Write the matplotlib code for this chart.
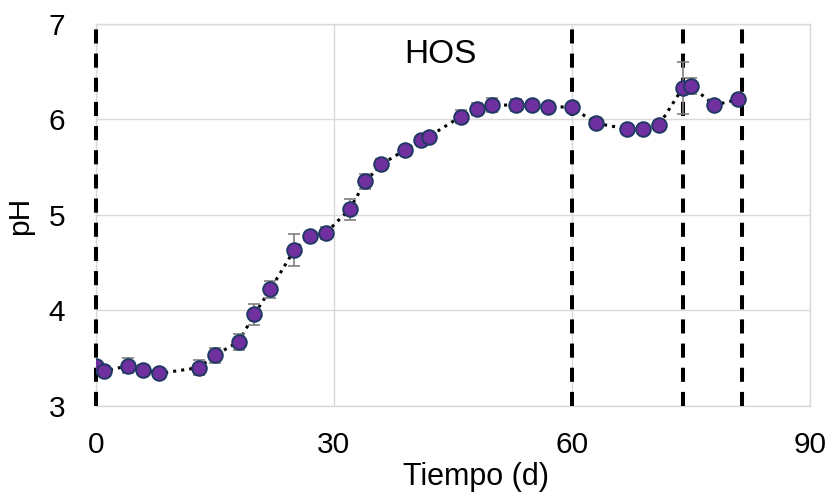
import numpy as np
import matplotlib.pyplot as plt

plt.rcParams['font.family'] = ['Liberation Sans', 'DejaVu Sans']

# pH over time, HOS reactor
tiempo = [0, 1, 4, 6, 8, 13, 15, 18, 20, 22, 25, 27, 29, 32, 34, 36, 39, 41, 42,
          46, 48, 50, 53, 55, 57, 60, 63, 67, 69, 71, 74, 75, 78, 81]
ph = [3.42, 3.36, 3.42, 3.38, 3.34, 3.40, 3.53, 3.67, 3.96, 4.22, 4.63, 4.78, 4.81,
      5.06, 5.35, 5.53, 5.68, 5.78, 5.82, 6.03, 6.11, 6.15, 6.15, 6.15, 6.13, 6.13,
      5.96, 5.90, 5.90, 5.94, 6.33, 6.35, 6.15, 6.21]
ph_err = [0.03, 0.05, 0.08, 0.05, 0.04, 0.08, 0.08, 0.08, 0.11, 0.09, 0.17, 0.04, 0.06,
          0.11, 0.08, 0.06, 0.04, 0.04, 0.03, 0.07, 0.06, 0.07, 0.06, 0.04, 0.03, 0.04,
          0.05, 0.04, 0.04, 0.03, 0.27, 0.08, 0.05, 0.04]
# feeding / event days
eventos = [0, 60, 74, 81.5]

fig = plt.figure(figsize=(8.33, 4.98), dpi=100)
ax = fig.add_axes([0.115, 0.185, 0.857, 0.767])

for xv in eventos:
    ax.axvline(xv, color='black', linewidth=2.9, linestyle=(0, (3.5, 2.5)),
               zorder=3, clip_on=False)

ax.errorbar(tiempo, ph, yerr=ph_err, fmt='none', ecolor='#7f7f7f',
            elinewidth=1.2, capsize=4, capthick=1.2, zorder=4)
ax.plot(tiempo, ph, linestyle=':', color='black', linewidth=2.2, zorder=2)
ax.plot(tiempo, ph, linestyle='none', marker='o', markersize=10.5,
        markerfacecolor='#7030A0', markeredgecolor='#1F3864',
        markeredgewidth=1.4, zorder=5)

ax.text(43.4, 6.68, 'HOS', fontsize=24, ha='center', va='center')

ax.set_xlim(0, 90)
ax.set_ylim(3, 7)
ax.set_xticks([0, 30, 60, 90])
ax.set_yticks([3, 4, 5, 6, 7])
ax.tick_params(axis='x', length=0, labelsize=21.5, pad=18)
ax.tick_params(axis='y', length=0, labelsize=21.5, pad=22)
ax.grid(True, color='#d9d9d9', linewidth=1)
ax.set_axisbelow(True)
for s in ax.spines.values():
    s.set_color('#d9d9d9')
    s.set_linewidth(1)

ax.set_xlabel('Tiempo (d)', fontsize=22)
ax.xaxis.set_label_coords(0.532, -0.186, transform=ax.transAxes)
ax.xaxis.label.set_va('center')
ax.set_ylabel('pH', fontsize=21.5)
ax.yaxis.set_label_coords(-0.106, 0.497, transform=ax.transAxes)
ax.yaxis.label.set_va('center')

fig.savefig('out.png', dpi=100)
